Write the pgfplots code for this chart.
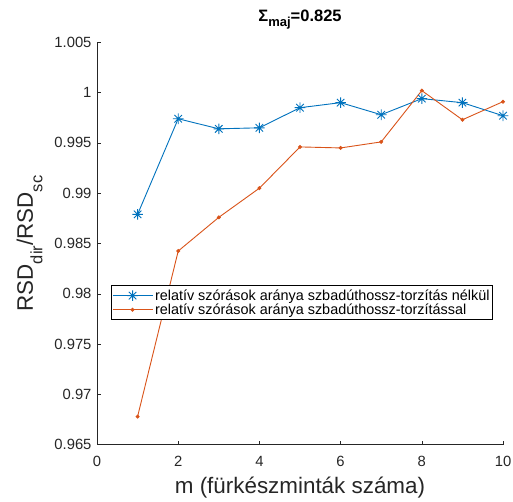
\documentclass[border=0pt]{standalone}
\usepackage{fontspec}
\setmainfont{Liberation Sans}
\usepackage{pgfplots}
\pgfplotsset{compat=1.18}
\definecolor{mblue}{rgb}{0,0.447,0.741}
\definecolor{morange}{rgb}{0.85,0.325,0.098}
\definecolor{axgray}{rgb}{0.15,0.15,0.15}
% MATLAB-style asterisk: + and x together
\pgfdeclareplotmark{mast}{%
  \pgfpathmoveto{\pgfpoint{-\pgfplotmarksize}{0pt}}\pgfpathlineto{\pgfpoint{\pgfplotmarksize}{0pt}}%
  \pgfpathmoveto{\pgfpoint{0pt}{-\pgfplotmarksize}}\pgfpathlineto{\pgfpoint{0pt}{\pgfplotmarksize}}%
  \pgfpathmoveto{\pgfpoint{-0.707\pgfplotmarksize}{-0.707\pgfplotmarksize}}\pgfpathlineto{\pgfpoint{0.707\pgfplotmarksize}{0.707\pgfplotmarksize}}%
  \pgfpathmoveto{\pgfpoint{-0.707\pgfplotmarksize}{0.707\pgfplotmarksize}}\pgfpathlineto{\pgfpoint{0.707\pgfplotmarksize}{-0.707\pgfplotmarksize}}%
  \pgfusepathqstroke}

\begin{document}
\begin{tikzpicture}
\begin{axis}[
  scale only axis,
  width=406pt, height=402.4pt,
  xmin=0, xmax=10,
  ymin=0.965, ymax=1.005,
  axis lines*=left,
  axis line style={axgray, line width=0.6pt},
  tick align=inside,
  major tick length=4pt,
  tick style={axgray, line width=0.6pt},
  xtick={0,2,4,6,8,10},
  ytick={0.965,0.97,0.975,0.98,0.985,0.99,0.995,1,1.005},
  yticklabels={0.965,0.97,0.975,0.98,0.985,0.99,0.995,1,1.005},
  /pgf/number format/assume math mode=true,
  ticklabel style={font=\fontsize{14.8}{16}\selectfont, text=axgray},
  xticklabel style={yshift=-8pt},
  yticklabel style={xshift=-2pt},
  xlabel={m (fürkészminták száma)},
  ylabel={RSD\raisebox{-0.8ex}{\fontsize{16.5}{17}\selectfont dir}/RSD\raisebox{-0.8ex}{\fontsize{16.5}{17}\selectfont sc}},
  label style={font=\fontsize{22.4}{24}\selectfont, text=axgray},
  xlabel style={at={(axis description cs:0.5,0)}, anchor=base, yshift=-48.5pt},
  ylabel style={at={(axis description cs:0,0.5)}, anchor=base, yshift=64pt},
  title={\bfseries Σ\raisebox{-0.6ex}{\fontsize{13}{13}\selectfont maj}=0.825},
  title style={font=\fontsize{16.5}{18}\selectfont, at={(axis description cs:0.5,1)}, anchor=base, yshift=15pt},
  legend style={at={(axis description cs:0.034,0.353)}, anchor=west, font=\fontsize{14.4}{16}\selectfont,
    draw=black, line width=0.6pt, fill=white, inner xsep=1pt, inner ysep=2pt, row sep=-2pt,
    cells={anchor=west}},
  legend image code/.code={
    \draw[mark repeat=2, mark phase=2] plot coordinates {(0pt,0pt) (20pt,0pt) (40pt,0pt)};},
]
\coordinate (sw) at (rel axis cs:0,0);
\coordinate (ne) at (rel axis cs:1,1);
\addplot[mblue, line width=0.9pt, mark=mast, mark size=5.3pt] coordinates {
  (1,0.9879) (2,0.9974) (3,0.9964) (4,0.9965) (5,0.9985)
  (6,0.9990) (7,0.9978) (8,0.9994) (9,0.9990) (10,0.9977)};
\addplot[morange, line width=0.9pt, mark=*, mark size=1.5pt] coordinates {
  (1,0.9678) (2,0.98425) (3,0.9876) (4,0.9905) (5,0.9946)
  (6,0.9945) (7,0.9951) (8,1.0002) (9,0.9973) (10,0.9991)};
\legend{relatív szórások aránya szbadúthossz-torzítás nélkül,
        relatív szórások aránya szbadúthossz-torzítással}
\end{axis}
\pgfresetboundingbox
\useasboundingbox ([shift={(-97pt,-56.3pt)}]sw) rectangle ([shift={(10pt,42.3pt)}]ne);
\end{tikzpicture}
\end{document}
